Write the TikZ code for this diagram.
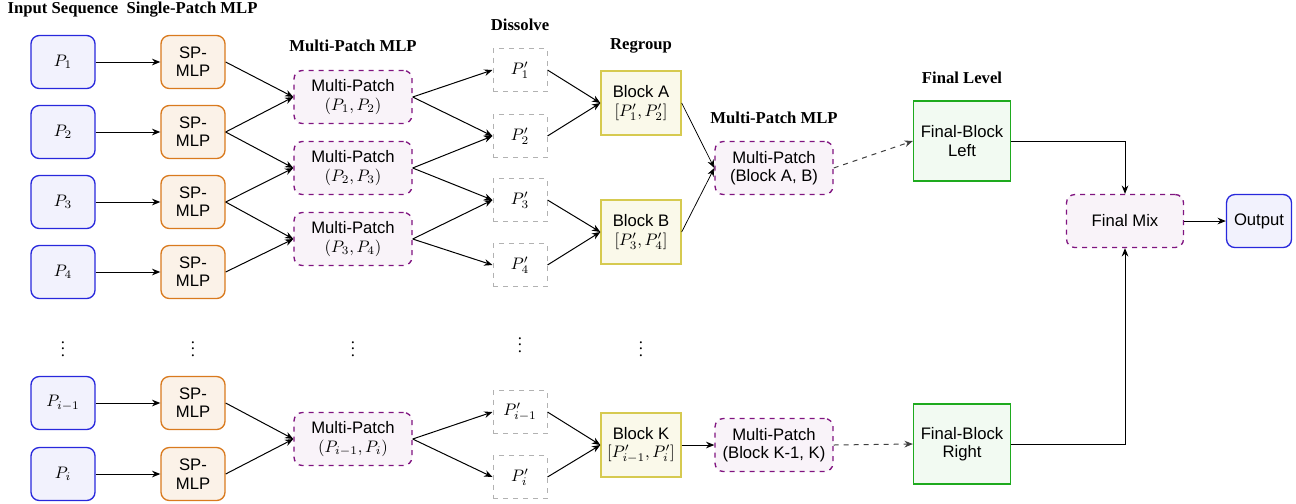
\documentclass[tikz,border=0pt]{standalone}
\usepackage{fontspec}
\setmainfont{Liberation Serif}
\setsansfont{Liberation Sans}
\usetikzlibrary{arrows.meta}

\definecolor{inblue}{RGB}{40,40,220}
\definecolor{spor}{RGB}{217,122,30}
\definecolor{mppur}{RGB}{128,20,128}
\definecolor{blkyel}{RGB}{214,202,80}
\definecolor{fbgreen}{RGB}{30,170,30}

\tikzset{
  x=0.6pt, y=-0.6pt,
  every node/.style={font=\sffamily\fontsize{10}{11}\selectfont, align=center, inner sep=1pt},
  inbox/.style={draw=inblue, fill=inblue!6, thick, rounded corners=5pt,
                minimum width=38.4pt, minimum height=31.8pt},
  spbox/.style={draw=spor, fill=spor!10, thick, rounded corners=5pt,
                minimum width=38.4pt, minimum height=31.8pt},
  mpbox/.style={draw=mppur, fill=mppur!5, thick, dashed, rounded corners=5pt,
                minimum width=70.8pt, minimum height=31.8pt},
  dsbox/.style={draw=gray!60, dashed, semithick,
                minimum width=32.4pt, minimum height=25.8pt},
  blkbox/.style={draw=blkyel, fill=blkyel!12, thick,
                minimum width=48pt, minimum height=38.4pt},
  fbbox/.style={draw=fbgreen, fill=fbgreen!6, thick,
                minimum width=58.2pt, minimum height=48pt},
  title/.style={font=\rmfamily\bfseries\fontsize{10}{11}\selectfont},
  dotsnode/.style={font=\normalsize},
  arr/.style={-{Stealth[length=5pt,width=4pt]}, semithick},
  thinarr/.style={-{Stealth[length=5pt,width=4pt]}, line width=0.45pt},
  dasharr/.style={-{Stealth[length=5pt,width=4pt]}, semithick, dashed, black!75},
}

\begin{document}
\begin{tikzpicture}
\useasboundingbox (0,0) rectangle (1296,503);

% column titles
\node[title] (tin)  at (63,10)  {Input Sequence};
\node[title] (tsp)  at (192,10) {Single-Patch MLP};
\node[title] (tmp)  at (353,46) {Multi-Patch MLP};
\node[title] (tds)  at (520,25) {Dissolve};
\node[title] (trg)  at (641,46) {Regroup};
\node[title] (tmp2) at (774,118) {Multi-Patch MLP};
\node[title] (tfl)  at (962,78) {Final Level};

% input patches
\node[inbox] (p1) at (63,62)  {$P_1$};
\node[inbox] (p2) at (63,132) {$P_2$};
\node[inbox] (p3) at (63,202) {$P_3$};
\node[inbox] (p4) at (63,272) {$P_4$};
\node[inbox] (pa) at (63,403) {$P_{i-1}$};
\node[inbox] (pb) at (63,474) {$P_i$};

% single-patch MLPs
\node[spbox] (s1) at (193,62)  {SP-\\MLP};
\node[spbox] (s2) at (193,132) {SP-\\MLP};
\node[spbox] (s3) at (193,202) {SP-\\MLP};
\node[spbox] (s4) at (193,272) {SP-\\MLP};
\node[spbox] (sa) at (193,403) {SP-\\MLP};
\node[spbox] (sb) at (193,474) {SP-\\MLP};

% multi-patch MLPs
\node[mpbox] (m1) at (353,97)  {Multi-Patch\\$(P_1, P_2)$};
\node[mpbox] (m2) at (353,168) {Multi-Patch\\$(P_2, P_3)$};
\node[mpbox] (m3) at (353,239) {Multi-Patch\\$(P_3, P_4)$};
\node[mpbox] (mb) at (353,439) {Multi-Patch\\$(P_{i-1}, P_i)$};

% dissolved patches
\node[dsbox] (d1) at (520,70)  {$P_1'$};
\node[dsbox] (d2) at (520,136) {$P_2'$};
\node[dsbox] (d3) at (520,200) {$P_3'$};
\node[dsbox] (d4) at (520,265) {$P_4'$};
\node[dsbox] (da) at (520,412) {$P_{i-1}'$};
\node[dsbox] (db) at (520,477) {$P_i'$};

% regrouped blocks
\node[blkbox] (ba) at (641,103) {Block A\\$[P_1', P_2']$};
\node[blkbox] (bb) at (641,232) {Block B\\$[P_3', P_4']$};
\node[blkbox] (bk) at (641,445) {Block K\\$[P_{i-1}', P_i']$};

% block-level multi-patch MLPs
\node[mpbox] (mab) at (774,168) {Multi-Patch\\(Block A, B)};
\node[mpbox] (mk)  at (774,445) {Multi-Patch\\(Block K-1, K)};

% final level
\node[fbbox] (fl) at (962,141) {Final-Block\\Left};
\node[fbbox] (fr) at (962,444) {Final-Block\\Right};
\node[mpbox, minimum width=70.2pt] (fm) at (1125,221) {Final Mix};
\node[inbox, minimum width=39pt] (out) at (1259,221) {Output};

% vertical ellipses
\node[dotsnode] (v1) at (63,344)  {$\vdots$};
\node[dotsnode] (v2) at (193,344) {$\vdots$};
\node[dotsnode] (v3) at (353,344) {$\vdots$};
\node[dotsnode] (v4) at (520,340) {$\vdots$};
\node[dotsnode] (v5) at (641,344) {$\vdots$};

% inputs to single-patch MLPs
\foreach \a/\b in {p1/s1,p2/s2,p3/s3,p4/s4,pa/sa,pb/sb}
  \draw[arr] (\a) -- (\b);

% single-patch to multi-patch
\foreach \a/\b in {s1/m1,s2/m1,s2/m2,s3/m2,s3/m3,s4/m3,sa/mb,sb/mb}
  \draw[arr] (\a.east) -- (\b.west);

% multi-patch to dissolved patches
\foreach \a/\b in {m1/d1,m1/d2,m2/d2,m2/d3,m3/d3,m3/d4,mb/da,mb/db}
  \draw[arr] (\a.east) -- (\b.west);

% dissolved patches to blocks
\foreach \a/\b in {d1/ba,d2/ba,d3/bb,d4/bb,da/bk,db/bk}
  \draw[arr] (\a.east) -- (\b.west);

% blocks to block-level MLPs
\draw[thinarr] (ba.east) -- (mab.west);
\draw[thinarr] (bb.east) -- (mab.west);
\draw[arr] (bk.east) -- (mk.west);

% to the final level
\draw[dasharr] (mab.east) -- (fl.west);
\draw[dasharr] (mk.east) -- (fr.west);
\draw[arr] (fl.east) -| (fm.north);
\draw[arr] (fr.east) -| (fm.south);
\draw[arr] (fm) -- (out);
\end{tikzpicture}
\end{document}
